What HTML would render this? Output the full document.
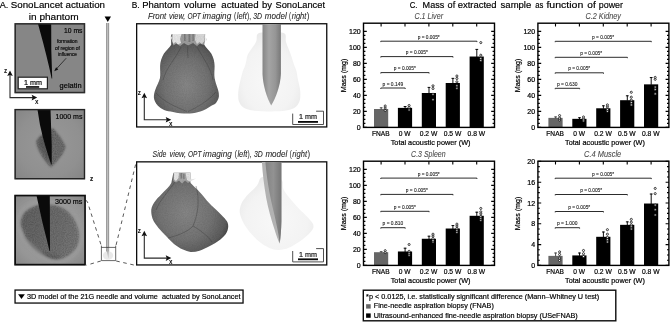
<!DOCTYPE html>
<html lang="en"><head><meta charset="utf-8"><title>SonoLancet figure</title>
<style>html,body{margin:0;padding:0;background:#fff;}body{width:670px;height:322px;overflow:hidden;font-family:"Liberation Sans", sans-serif;}svg{display:block;}text{font-family:"Liberation Sans", sans-serif;}</style>
</head><body>
<svg width="670" height="322" viewBox="0 0 670 322">
<defs>
<filter id="b1" x="-30%" y="-30%" width="160%" height="160%"><feGaussianBlur stdDeviation="1.6"/></filter>
<filter id="b1s" x="-30%" y="-30%" width="160%" height="160%"><feGaussianBlur stdDeviation="1.1"/></filter>
<filter id="b2" x="-30%" y="-30%" width="160%" height="160%"><feGaussianBlur stdDeviation="2.4"/></filter>
<filter id="b05" x="-30%" y="-30%" width="160%" height="160%"><feGaussianBlur stdDeviation="0.6"/></filter>
<filter id="noise" x="0" y="0" width="100%" height="100%">
  <feTurbulence type="fractalNoise" baseFrequency="0.9" numOctaves="2" seed="4" result="n"/>
  <feColorMatrix in="n" type="matrix" values="0 0 0 0 0  0 0 0 0 0  0 0 0 0 0  0.9 0 0 0 -0.28" result="a"/>
  <feComposite in="a" in2="SourceGraphic" operator="in"/>
</filter>
<linearGradient id="tube" x1="0" x2="1" y1="0" y2="0">
  <stop offset="0" stop-color="#6a6a6a"/><stop offset="0.3" stop-color="#b8b8b8"/><stop offset="0.6" stop-color="#c4c4c4"/><stop offset="1" stop-color="#707070"/>
</linearGradient>
<linearGradient id="ndl" x1="0" x2="1" y1="0" y2="0">
  <stop offset="0" stop-color="#868686"/><stop offset="0.35" stop-color="#a4a4a4"/><stop offset="0.7" stop-color="#969696"/><stop offset="1" stop-color="#787878"/>
</linearGradient>
<linearGradient id="ndl3" x1="0" x2="1" y1="0" y2="0">
  <stop offset="0" stop-color="#848484"/><stop offset="0.5" stop-color="#929292"/><stop offset="1" stop-color="#767676"/>
</linearGradient>
<linearGradient id="ndl2" x1="0" x2="1" y1="0" y2="0">
  <stop offset="0" stop-color="#9a9a9a"/><stop offset="0.45" stop-color="#a6a6a6"/><stop offset="0.55" stop-color="#7a7a7a"/><stop offset="1" stop-color="#6c6c6c"/>
</linearGradient>
<radialGradient id="opt1" cx="0.5" cy="0.64" r="0.62">
  <stop offset="0" stop-color="#868686"/><stop offset="0.55" stop-color="#727272"/><stop offset="0.85" stop-color="#5a5a5a"/><stop offset="1" stop-color="#3c3c3c"/>
</radialGradient>
<radialGradient id="opt2" cx="0.45" cy="0.5" r="0.62">
  <stop offset="0" stop-color="#858585"/><stop offset="0.55" stop-color="#737373"/><stop offset="0.85" stop-color="#5c5c5c"/><stop offset="1" stop-color="#3e3e3e"/>
</radialGradient>
<radialGradient id="mdl" cx="0.5" cy="0.6" r="0.6">
  <stop offset="0" stop-color="#f8f8f8"/><stop offset="0.7" stop-color="#f3f3f3"/><stop offset="1" stop-color="#eaeaea"/>
</radialGradient>
<linearGradient id="cl3" x1="0" x2="1" y1="0" y2="0.3">
  <stop offset="0" stop-color="#5a5a5a"/><stop offset="0.5" stop-color="#646464"/><stop offset="1" stop-color="#707070"/>
</linearGradient>
<radialGradient id="bg2" cx="0.5" cy="0.5" r="0.75">
  <stop offset="0" stop-color="#989898"/><stop offset="0.6" stop-color="#909090"/><stop offset="1" stop-color="#828282"/>
</radialGradient>
<radialGradient id="bg3" cx="0.5" cy="0.5" r="0.75">
  <stop offset="0" stop-color="#a0a0a0"/><stop offset="0.65" stop-color="#969696"/><stop offset="1" stop-color="#828282"/>
</radialGradient>
<clipPath id="cp1"><rect x="14.8" y="23.8" width="69.8" height="69"/></clipPath>
<clipPath id="cp2"><rect x="14.8" y="109.4" width="69.8" height="69.6"/></clipPath>
<clipPath id="cp3"><rect x="14.8" y="195.4" width="69.8" height="69.6"/></clipPath>
</defs>
<g id="panelA">
<text y="8.00" font-size="9.9" font-weight="normal" font-style="normal" fill="#000" stroke="#000" stroke-width="0.18"><tspan x="-0.20" textLength="8.60" lengthAdjust="spacingAndGlyphs">A.</tspan> <tspan x="10.80" textLength="94.20" lengthAdjust="spacingAndGlyphs">SonoLancet actuation</tspan></text>
<text x="28.80" y="20.20" font-size="9.9" font-weight="normal" font-style="normal" fill="#000" stroke="#000" stroke-width="0.18" textLength="49.80" lengthAdjust="spacingAndGlyphs" >in phantom</text>
<rect x="14.5" y="23.2" width="70.6" height="70" fill="#868686"/>
<g clip-path="url(#cp1)">
<path d="M37.9 23.4 L51.2 23.4 L51.3 50 L52.2 78.4 L51.6 78.4 C49.6 68 46 54 43.2 43 Z" fill="#0a0a0a"/>
</g>
<rect x="15.25" y="23.85" width="69.2" height="68.69999999999999" fill="none" stroke="#2c2c2c" stroke-width="1.5"/>
<text x="64.00" y="32.60" font-size="8" font-weight="normal" font-style="normal" fill="#000" stroke="#000" stroke-width="0.18" textLength="18.40" lengthAdjust="spacingAndGlyphs" >10 ms</text>
<text x="57.00" y="43.20" font-size="4.6" font-weight="normal" font-style="normal" fill="#111" stroke="#111" stroke-width="0.18" textLength="20.60" lengthAdjust="spacingAndGlyphs" >formation</text>
<text x="55.00" y="49.60" font-size="4.6" font-weight="normal" font-style="normal" fill="#111" stroke="#111" stroke-width="0.18" textLength="25.00" lengthAdjust="spacingAndGlyphs" >of region of</text>
<text x="58.00" y="55.80" font-size="4.6" font-weight="normal" font-style="normal" fill="#111" stroke="#111" stroke-width="0.18" textLength="19.00" lengthAdjust="spacingAndGlyphs" >influence</text>
<path d="M66.2 58.2 L55.6 69.8" stroke="#111" stroke-width="0.7" fill="none"/>
<path d="M54.2 71.3 L58.3 69.4 L56.1 67.3 Z" fill="#111"/>
<rect x="18.2" y="77.2" width="29.2" height="11.6" fill="#fff" stroke="#222" stroke-width="1.2"/>
<text x="24.00" y="84.60" font-size="7.4" font-weight="normal" font-style="normal" fill="#000" stroke="#000" stroke-width="0.18" textLength="18.00" lengthAdjust="spacingAndGlyphs" >1 mm</text>
<rect x="26" y="86.1" width="13.2" height="1.7" fill="#111"/>
<text x="59.60" y="88.00" font-size="8" font-weight="normal" font-style="normal" fill="#000" stroke="#000" stroke-width="0.18" textLength="22.00" lengthAdjust="spacingAndGlyphs" >gelatin</text>
<path d="M10 73.4 L10 97.6 L34.2 97.6" stroke="#2a2a2a" stroke-width="1.1" fill="none"/>
<path d="M10 70.4 L7.2 76.0 L10 75.0 L12.8 76.0 Z" fill="#111"/>
<path d="M37.2 97.6 L31.6 94.8 L32.6 97.6 L31.6 100.39999999999999 Z" fill="#111"/>
<text x="4.00" y="72.60" font-size="7" font-weight="bold" font-style="normal" fill="#111" stroke="#111" stroke-width="0" textLength="3.20" lengthAdjust="spacingAndGlyphs" >z</text>
<text x="35.00" y="103.60" font-size="7" font-weight="bold" font-style="normal" fill="#111" stroke="#111" stroke-width="0" textLength="3.50" lengthAdjust="spacingAndGlyphs" >x</text>
<rect x="14.4" y="109" width="70.6" height="70.4" fill="url(#bg2)"/>
<g clip-path="url(#cp2)">
<path d="M52.9 128 C57 132 63 140 65.6 146.4 C65 152 58 161 50.9 167.6 C47 164 43.5 159 41 155 C38.5 150.5 36 145 36.2 140.7 C39 136 46 131 52.9 128 Z" fill="#686868" opacity="0.88" filter="url(#b1s)"/>
<path d="M40 137 C44 134 49 133 52 134 L50 162 C46 158 42 152 39.5 147 C38 143 38.5 140 40 137 Z" fill="#505050" opacity="0.5" filter="url(#b1)"/>
<path d="M52.9 128 C57 132 63 140 65.6 146.4 C65 152 58 161 50.9 167.6 C47 164 43.5 159 41 155 C38.5 150.5 36 145 36.2 140.7 C39 136 46 131 52.9 128 Z" fill="#000" opacity="0.4" filter="url(#noise)"/>
<path d="M37.4 109 L50.5 109 L51.7 145 L51.7 164.4 L51.1 164.4 C49 158 47 151.5 45 145 C43 138 41.5 131 40 125 Z" fill="#0a0a0a"/>
</g>
<rect x="15.2" y="109.60000000000001" width="69.3" height="69.1" fill="none" stroke="#242424" stroke-width="1.4"/>
<text x="55.60" y="118.80" font-size="8" font-weight="normal" font-style="normal" fill="#000" stroke="#000" stroke-width="0.18" textLength="26.80" lengthAdjust="spacingAndGlyphs" >1000 ms</text>
<rect x="14.4" y="195" width="70.6" height="70.4" fill="url(#bg3)"/>
<g clip-path="url(#cp3)">
<path d="M46.0 204.8 C48.7 204.9 52.7 204.7 56.0 205.6 C59.3 206.5 63.0 207.8 66.0 210.0 C69.0 212.2 71.9 215.5 74.0 219.0 C76.1 222.5 78.1 227.0 78.8 231.0 C79.5 235.0 79.4 239.5 78.4 243.0 C77.4 246.5 75.4 249.5 73.0 252.0 C70.6 254.5 67.0 256.8 64.0 258.0 C61.0 259.2 57.8 259.6 55.0 259.4 C52.2 259.1 49.5 258.0 47.0 256.5 C44.5 255.0 42.3 252.6 40.0 250.5 C37.7 248.4 35.3 246.2 33.0 244.0 C30.7 241.8 27.9 239.7 26.0 237.0 C24.1 234.3 22.4 230.8 21.6 228.0 C20.8 225.2 20.4 222.7 21.0 220.0 C21.6 217.3 23.0 214.2 25.0 212.0 C27.0 209.8 30.5 208.0 33.0 206.8 C35.5 205.6 37.8 205.1 40.0 204.8 C42.2 204.5 43.3 204.7 46.0 204.8 Z" fill="#a2a2a2" stroke="#a2a2a2" stroke-width="5" opacity="0.8" filter="url(#b2)"/>
<path d="M46.0 204.8 C48.7 204.9 52.7 204.7 56.0 205.6 C59.3 206.5 63.0 207.8 66.0 210.0 C69.0 212.2 71.9 215.5 74.0 219.0 C76.1 222.5 78.1 227.0 78.8 231.0 C79.5 235.0 79.4 239.5 78.4 243.0 C77.4 246.5 75.4 249.5 73.0 252.0 C70.6 254.5 67.0 256.8 64.0 258.0 C61.0 259.2 57.8 259.6 55.0 259.4 C52.2 259.1 49.5 258.0 47.0 256.5 C44.5 255.0 42.3 252.6 40.0 250.5 C37.7 248.4 35.3 246.2 33.0 244.0 C30.7 241.8 27.9 239.7 26.0 237.0 C24.1 234.3 22.4 230.8 21.6 228.0 C20.8 225.2 20.4 222.7 21.0 220.0 C21.6 217.3 23.0 214.2 25.0 212.0 C27.0 209.8 30.5 208.0 33.0 206.8 C35.5 205.6 37.8 205.1 40.0 204.8 C42.2 204.5 43.3 204.7 46.0 204.8 Z" fill="url(#cl3)" opacity="0.9" filter="url(#b1)"/>
<path d="M40 250.5 C35 246 28 240 24 233 C26 242 36 252 47 256.5 C52 258.5 58 259 63 257 C55 257 46 255 40 250.5 Z" fill="#3a3a3a" opacity="0.55" filter="url(#b1)"/>
<path d="M46.0 204.8 C48.7 204.9 52.7 204.7 56.0 205.6 C59.3 206.5 63.0 207.8 66.0 210.0 C69.0 212.2 71.9 215.5 74.0 219.0 C76.1 222.5 78.1 227.0 78.8 231.0 C79.5 235.0 79.4 239.5 78.4 243.0 C77.4 246.5 75.4 249.5 73.0 252.0 C70.6 254.5 67.0 256.8 64.0 258.0 C61.0 259.2 57.8 259.6 55.0 259.4 C52.2 259.1 49.5 258.0 47.0 256.5 C44.5 255.0 42.3 252.6 40.0 250.5 C37.7 248.4 35.3 246.2 33.0 244.0 C30.7 241.8 27.9 239.7 26.0 237.0 C24.1 234.3 22.4 230.8 21.6 228.0 C20.8 225.2 20.4 222.7 21.0 220.0 C21.6 217.3 23.0 214.2 25.0 212.0 C27.0 209.8 30.5 208.0 33.0 206.8 C35.5 205.6 37.8 205.1 40.0 204.8 C42.2 204.5 43.3 204.7 46.0 204.8 Z" fill="#000" opacity="0.35" filter="url(#noise)"/>
<path d="M36.4 195 L49.8 195 L50 251 L49.5 251 C47 240.5 44.6 231 42.6 223 C40.4 213.5 38.4 204 36.4 195 Z" fill="#0a0a0a"/>
</g>
<rect x="15.15" y="195.54999999999998" width="69.9" height="69.10000000000001" fill="none" stroke="#0e0e0e" stroke-width="1.7"/>
<text x="55.00" y="204.40" font-size="8" font-weight="normal" font-style="normal" fill="#000" stroke="#000" stroke-width="0.18" textLength="27.40" lengthAdjust="spacingAndGlyphs" >3000 ms</text>
<text x="90.00" y="180.60" font-size="6.6" font-weight="bold" font-style="normal" fill="#111" stroke="#111" stroke-width="0.18" textLength="3.20" lengthAdjust="spacingAndGlyphs" >z</text>
<path d="M104.6 16.6 L111 16.6 L107.8 22 Z" fill="#000"/>
<rect x="106.2" y="23" width="2.9" height="231" fill="url(#tube)"/>
<path d="M106.2 254 L109.1 254 L108 258.8 Z" fill="#a8a8a8"/>
<ellipse cx="108" cy="255.5" rx="5.2" ry="4.2" fill="#e9e9e9"/>
<path d="M106.3 247 L109 247 L108.3 258.6 Z" fill="#b0b0b0"/>
<path d="M101.4 245.6 L101.4 260.6 L115.7 260.6 L115.7 245.6 M101.4 247.4 L115.7 247.4" stroke="#2a2a2a" stroke-width="0.7" fill="none"/>
<g stroke="#222" stroke-width="0.75" fill="none" stroke-dasharray="3.6 3.6">
<path d="M85.6 200.6 C87.5 200.6 87.6 202.5 88.6 205.5 L101.2 245.4"/>
<path d="M135.6 164.5 L116 245.4"/>
<path d="M100.8 261 L86.5 265.2"/>
<path d="M116.2 261 L135.6 265.4"/>
</g>
<rect x="15.05" y="290.05" width="228" height="13" fill="#fff" stroke="#0c0c0c" stroke-width="1.3"/>
<text transform="translate(18 299.1) scale(1.16 0.84)" x="-2" y="0" font-size="10">▼</text>
<text x="27.00" y="298.60" font-size="7.2" font-weight="normal" font-style="normal" fill="#000" stroke="#000" stroke-width="0.18" textLength="213.60" lengthAdjust="spacingAndGlyphs" xml:space="preserve">3D model of the 21G needle and volume  actuated by SonoLancet</text>
</g>
<g id="panelB">
<text y="8.00" font-size="9.9" font-weight="normal" font-style="normal" fill="#000" stroke="#000" stroke-width="0.18"><tspan x="131.70" textLength="7.90" lengthAdjust="spacingAndGlyphs">B.</tspan> <tspan x="142.20" textLength="38.00" lengthAdjust="spacingAndGlyphs">Phantom</tspan> <tspan x="184.00" textLength="32.00" lengthAdjust="spacingAndGlyphs">volume</tspan> <tspan x="221.30" textLength="37.30" lengthAdjust="spacingAndGlyphs">actuated</tspan> <tspan x="262.00" textLength="10.00" lengthAdjust="spacingAndGlyphs">by</tspan> <tspan x="275.50" textLength="49.50" lengthAdjust="spacingAndGlyphs">SonoLancet</tspan></text>
<text y="18.90" font-size="8.4" font-weight="normal" font-style="italic" fill="#222" stroke="#222" stroke-width="0.06"><tspan x="147.90" textLength="18.40" lengthAdjust="spacingAndGlyphs">Front</tspan> <tspan x="169.00" textLength="16.40" lengthAdjust="spacingAndGlyphs">view,</tspan> <tspan x="187.40" textLength="13.40" lengthAdjust="spacingAndGlyphs">OPT</tspan> <tspan x="202.50" textLength="28.70" lengthAdjust="spacingAndGlyphs">imaging</tspan> <tspan x="234.10" textLength="2.20" lengthAdjust="spacingAndGlyphs" font-style="normal">(</tspan><tspan x="236.80" textLength="10.00" lengthAdjust="spacingAndGlyphs" font-style="italic">left</tspan><tspan x="247.00" textLength="4.00" lengthAdjust="spacingAndGlyphs" font-style="normal">),</tspan> <tspan x="253.30" textLength="8.80" lengthAdjust="spacingAndGlyphs">3D</tspan> <tspan x="264.80" textLength="21.90" lengthAdjust="spacingAndGlyphs">model</tspan> <tspan x="289.10" textLength="2.00" lengthAdjust="spacingAndGlyphs" font-style="normal">(</tspan><tspan x="291.70" textLength="14.70" lengthAdjust="spacingAndGlyphs" font-style="italic">right</tspan><tspan x="306.80" textLength="2.60" lengthAdjust="spacingAndGlyphs" font-style="normal">)</tspan></text>
<text y="156.90" font-size="8.4" font-weight="normal" font-style="italic" fill="#222" stroke="#222" stroke-width="0.06"><tspan x="152.60" textLength="13.80" lengthAdjust="spacingAndGlyphs">Side</tspan> <tspan x="169.60" textLength="16.40" lengthAdjust="spacingAndGlyphs">view,</tspan> <tspan x="188.00" textLength="13.40" lengthAdjust="spacingAndGlyphs">OPT</tspan> <tspan x="203.10" textLength="28.70" lengthAdjust="spacingAndGlyphs">imaging</tspan> <tspan x="234.70" textLength="2.20" lengthAdjust="spacingAndGlyphs" font-style="normal">(</tspan><tspan x="237.40" textLength="10.00" lengthAdjust="spacingAndGlyphs" font-style="italic">left</tspan><tspan x="247.60" textLength="4.00" lengthAdjust="spacingAndGlyphs" font-style="normal">),</tspan> <tspan x="253.90" textLength="8.80" lengthAdjust="spacingAndGlyphs">3D</tspan> <tspan x="265.40" textLength="21.90" lengthAdjust="spacingAndGlyphs">model</tspan> <tspan x="289.70" textLength="2.00" lengthAdjust="spacingAndGlyphs" font-style="normal">(</tspan><tspan x="292.30" textLength="14.70" lengthAdjust="spacingAndGlyphs" font-style="italic">right</tspan><tspan x="307.40" textLength="2.60" lengthAdjust="spacingAndGlyphs" font-style="normal">)</tspan></text>
<rect x="136.65" y="23.75" width="190.09999999999997" height="103.2" fill="#fff" stroke="#0c0c0c" stroke-width="1.3"/>
<rect x="136.65" y="161.85" width="190.09999999999997" height="103.10000000000004" fill="#fff" stroke="#0c0c0c" stroke-width="1.3"/>
<path d="M171.3 34.4 L204.9 34.4 L204.2 44.8 C206 48 209.5 50.5 211.4 53.8 C213.5 57.5 214.6 62 214.6 66 C214.6 70 214 74 214.6 78 C215.4 82 216.6 85.5 217.8 89 C218.6 91.5 219.1 94 218.9 96.5 C218.6 99.4 216.8 102 215 104 C212.8 104.8 210.8 106.2 208.6 107.4 C205.4 109.6 202 111.2 198.4 112 C194.6 113 190.8 113.6 187 113.6 C182.2 113.6 177.6 113 173 112 C170 111.5 166.8 111 164.1 110 C161.6 108.6 159.4 107.2 157.7 105.4 C155.6 103.4 154.2 100.6 153.9 97.8 C153.7 95 154.4 92.2 155.4 89.5 C156.6 86 159 82 160 78 C160.6 74 160 70 160.1 66 C160.2 62 161.6 57.5 163.8 53.8 C165.8 50.5 169.5 48 171.2 44.8 Z" fill="url(#opt1)"/>
<g filter="url(#b05)"><path d="M172.1 34 L205.2 34 L204.8 41 L203.5 45 L200 43.5 L197 46 L193 43 L188 45.5 L184 43 L180 46 L176.5 43.5 L173.5 45.5 L172.1 42 Z" fill="#9c9c9c"/><path d="M172.6 34 L181.5 34 L180 39 L181 43 L178 44.5 L175.5 42 L173.5 44 L172.3 41 Z" fill="#e6e6e6"/><path d="M195.5 34 L204.8 34 L204.4 41 L202 44 L199.5 42 L197 44 L195 40 Z" fill="#d6d6d6"/><path d="M184 34 h1.6 v7 h-1.6 Z M188.5 34 h1.8 v8 h-1.8 Z M192.4 34 h1.4 v7 h-1.4 Z" fill="#7a7a7a"/><path d="M170.5 36 l2 1.5 l-1.8 3 Z M205.5 37 l1.6 2.4 l-1.4 2 Z" fill="#ddd"/></g>
<path d="M181 47 C176 58 166 68 163 80 M197 47 C203 58 211 68 213 80 M188 45 C187 50 188 54 188 58 M156 93 C164 102 176 107 187 111.5 M216 92 C208 101 198 107 188 111.5" stroke="#333" stroke-width="0.8" fill="none" opacity="0.4" filter="url(#b05)"/>
<path d="M171.3 34.4 L204.9 34.4 L204.2 44.8 C206 48 209.5 50.5 211.4 53.8 C213.5 57.5 214.6 62 214.6 66 C214.6 70 214 74 214.6 78 C215.4 82 216.6 85.5 217.8 89 C218.6 91.5 219.1 94 218.9 96.5 C218.6 99.4 216.8 102 215 104 C212.8 104.8 210.8 106.2 208.6 107.4 C205.4 109.6 202 111.2 198.4 112 C194.6 113 190.8 113.6 187 113.6 C182.2 113.6 177.6 113 173 112 C170 111.5 166.8 111 164.1 110 C161.6 108.6 159.4 107.2 157.7 105.4 C155.6 103.4 154.2 100.6 153.9 97.8 C153.7 95 154.4 92.2 155.4 89.5 C156.6 86 159 82 160 78 C160.6 74 160 70 160.1 66 C160.2 62 161.6 57.5 163.8 53.8 C165.8 50.5 169.5 48 171.2 44.8 Z" fill="#000" opacity="0.14" filter="url(#noise)"/>
<path d="M144.3 95.7 L144.3 119.7 L168.3 119.7" stroke="#2a2a2a" stroke-width="1.1" fill="none"/>
<path d="M144.3 92.7 L141.5 98.3 L144.3 97.3 L147.10000000000002 98.3 Z" fill="#111"/>
<path d="M171.3 119.7 L165.70000000000002 116.9 L166.70000000000002 119.7 L165.70000000000002 122.5 Z" fill="#111"/>
<text x="137.70" y="94.60" font-size="7" font-weight="bold" font-style="normal" fill="#111" stroke="#111" stroke-width="0" textLength="3.20" lengthAdjust="spacingAndGlyphs" >z</text>
<text x="169.00" y="125.60" font-size="7" font-weight="bold" font-style="normal" fill="#111" stroke="#111" stroke-width="0" textLength="3.50" lengthAdjust="spacingAndGlyphs" >x</text>
<path d="M258.2 33.4 C260.8 31.9 267.0 33.0 271.4 33.0 C275.8 33.0 282.1 31.9 284.5 33.4 C286.9 34.9 285.0 38.5 286.0 42.0 C287.0 45.5 289.6 51.2 290.7 54.2 C291.8 57.2 291.9 58.0 292.5 60.0 C293.1 62.0 293.8 64.1 294.5 66.0 C295.2 67.9 295.9 69.0 296.5 71.3 C297.1 73.6 297.4 77.2 298.0 80.0 C298.6 82.8 299.5 85.7 299.9 88.4 C300.3 91.1 300.4 93.7 300.3 96.0 C300.2 98.3 300.1 100.1 299.2 102.0 C298.3 103.9 297.2 106.1 295.0 107.5 C292.8 108.9 290.0 109.9 286.0 110.6 C282.0 111.2 276.5 111.4 271.0 111.4 C265.5 111.4 257.6 111.2 253.0 110.6 C248.4 109.9 245.8 108.9 243.5 107.5 C241.2 106.1 240.1 103.9 239.2 102.0 C238.3 100.1 238.3 98.3 238.2 96.0 C238.1 93.7 238.3 91.1 238.7 88.4 C239.1 85.7 239.8 82.8 240.5 80.0 C241.2 77.2 242.1 73.6 242.8 71.3 C243.6 69.0 244.4 67.9 245.0 66.0 C245.6 64.1 246.0 62.0 246.5 60.0 C247.0 58.0 246.4 57.2 248.0 54.2 C249.6 51.2 254.3 45.5 256.0 42.0 C257.7 38.5 255.6 34.9 258.2 33.4 Z" fill="url(#mdl)"/>
<path d="M262.5 24 L280.9 24 L280.9 74 C280.4 86 275.6 98 271.2 105.6 C267 98 263 86 262.5 74 Z" fill="url(#ndl)"/>
<path d="M292.7 113.60000000000001 L292.7 124.5 L323.5 124.5 L323.5 111.2 L316.1 111.2" stroke="#3c3c3c" stroke-width="0.9" fill="none"/>
<text x="299.00" y="119.00" font-size="7.4" font-weight="normal" font-style="normal" fill="#111" stroke="#111" stroke-width="0.18" textLength="18.00" lengthAdjust="spacingAndGlyphs" >1 mm</text>
<rect x="298.0" y="121.0" width="20" height="1.8" fill="#0a0a0a"/>
<path d="M173.3 173.3 L189.1 173.3 L190.6 182.9 C193 185.5 195.6 187.8 198 190.3 C201.2 193.6 204 197 207 200.7 C210 204 213 206.8 215.9 209.6 C219 212.6 222 215.4 224.8 218.6 C226.4 220.4 227.8 222.4 228.1 224.5 C228.5 227 228 229.8 226.9 232 C225.4 235 223 237.4 220.4 239.4 C217.2 241.9 213.6 244 209.9 246 C206.6 247.8 203 249.6 199.5 250.7 C196.6 251.6 193.6 252 190.6 251.9 C188 251.6 185.6 250.8 183 249.6 C179.8 248.2 176.6 246.2 174 244 C171.2 241.6 168.8 239.2 166.5 236.5 C163.6 233.6 161 231 158.5 228 C156 224.8 153.6 222 152.5 218.6 C151.6 215.7 151 212.6 151.3 209.6 C151.7 206.4 153.4 203.4 155.5 200.7 C158 197.5 161 194.8 163.8 191.8 C166.4 189 169.4 186.2 171.3 182.9 Z" fill="url(#opt2)"/>
<g filter="url(#b05)"><path d="M173.6 172.6 L190.6 172.6 L191.2 180.5 L188 183 L185 180.5 L182 183.5 L179 180.5 L176 182.5 L173.4 181 Z" fill="#a4a4a4"/><path d="M174 172.6 L179 172.6 L178.5 178 L176 181 L174 179.5 Z" fill="#e4e4e4"/><path d="M185.5 173 L190.4 173 L190.8 179.5 L196 178.6 L190 181.4 L187 180 Z" fill="#e0e0e0"/><path d="M180.5 173 h1.6 v5.5 h-1.6 Z M183.2 174 h1.3 v5 h-1.3 Z" fill="#7c7c7c"/></g>
<path d="M196 186 C200 200 198 214 193 226 C188 232 176 236 168 238 M193 226 C200 230 208 236 212 242 M175 182 C168 192 160 200 156 210" stroke="#3a3a3a" stroke-width="0.7" fill="none" opacity="0.55" filter="url(#b05)"/>
<path d="M173.3 173.3 L189.1 173.3 L190.6 182.9 C193 185.5 195.6 187.8 198 190.3 C201.2 193.6 204 197 207 200.7 C210 204 213 206.8 215.9 209.6 C219 212.6 222 215.4 224.8 218.6 C226.4 220.4 227.8 222.4 228.1 224.5 C228.5 227 228 229.8 226.9 232 C225.4 235 223 237.4 220.4 239.4 C217.2 241.9 213.6 244 209.9 246 C206.6 247.8 203 249.6 199.5 250.7 C196.6 251.6 193.6 252 190.6 251.9 C188 251.6 185.6 250.8 183 249.6 C179.8 248.2 176.6 246.2 174 244 C171.2 241.6 168.8 239.2 166.5 236.5 C163.6 233.6 161 231 158.5 228 C156 224.8 153.6 222 152.5 218.6 C151.6 215.7 151 212.6 151.3 209.6 C151.7 206.4 153.4 203.4 155.5 200.7 C158 197.5 161 194.8 163.8 191.8 C166.4 189 169.4 186.2 171.3 182.9 Z" fill="#000" opacity="0.14" filter="url(#noise)"/>
<path d="M144.3 233.7 L144.3 258.1 L168.3 258.1" stroke="#2a2a2a" stroke-width="1.1" fill="none"/>
<path d="M144.3 230.7 L141.5 236.29999999999998 L144.3 235.29999999999998 L147.10000000000002 236.29999999999998 Z" fill="#111"/>
<path d="M171.3 258.1 L165.70000000000002 255.3 L166.70000000000002 258.1 L165.70000000000002 260.90000000000003 Z" fill="#111"/>
<text x="137.70" y="232.70" font-size="7" font-weight="bold" font-style="normal" fill="#111" stroke="#111" stroke-width="0" textLength="3.20" lengthAdjust="spacingAndGlyphs" >z</text>
<text x="169.00" y="263.90" font-size="7" font-weight="bold" font-style="normal" fill="#111" stroke="#111" stroke-width="0" textLength="3.50" lengthAdjust="spacingAndGlyphs" >x</text>
<path d="M261.2 177.5 C258.9 178.9 259.4 182.5 257.0 185.5 C254.6 188.5 249.6 192.4 247.0 195.4 C244.4 198.4 242.7 200.7 241.5 203.6 C240.3 206.5 239.4 209.4 239.8 212.7 C240.2 216.0 241.9 219.8 243.8 223.4 C245.8 227.0 248.8 230.9 251.5 234.1 C254.2 237.2 257.0 240.0 260.0 242.3 C263.0 244.6 266.3 246.7 269.4 248.0 C272.5 249.3 275.4 250.0 278.7 249.9 C282.0 249.8 285.2 249.5 289.4 247.6 C293.6 245.7 300.2 241.2 304.0 238.3 C307.8 235.4 310.5 232.6 312.0 230.3 C313.5 228.0 313.8 226.7 313.2 224.6 C312.6 222.5 310.5 220.5 308.1 217.8 C305.7 215.1 301.9 211.8 298.8 208.5 C295.7 205.2 292.2 201.2 289.6 198.0 C287.0 194.8 284.7 192.0 283.4 189.0 C282.1 186.0 283.7 182.0 281.6 180.0 C279.5 178.0 274.4 177.2 271.0 176.8 C267.6 176.4 263.5 176.1 261.2 177.5 Z" fill="url(#mdl)"/>
<path d="M261.9 162 L281.4 162 L281.4 221.5 C281.2 230 280.6 238 279.5 243.6 C277.4 238 275.8 234 274.7 230 C271.4 220 268 208 266.2 198 C264.2 186 262.6 174 261.9 162 Z" fill="#b2b2b2"/>
<path d="M265.4 162 L281.4 162 L281.4 221.5 C281.2 230 280.6 238 279.7 243.6 C279 237 278 232 276.8 226 C274.6 215 271.4 203 269.4 192 C267.6 182 266.2 172 265.4 162 Z" fill="url(#ndl3)"/>
<path d="M292.7 251.0 L292.7 261.9 L323.5 261.9 L323.5 248.6 L316.1 248.6" stroke="#3c3c3c" stroke-width="0.9" fill="none"/>
<text x="299.00" y="257.30" font-size="7.4" font-weight="normal" font-style="normal" fill="#111" stroke="#111" stroke-width="0.18" textLength="18.00" lengthAdjust="spacingAndGlyphs" >1 mm</text>
<rect x="298.0" y="258.4" width="20" height="1.8" fill="#0a0a0a"/>
</g>
<g id="panelC">
<text y="8.00" font-size="9.9" font-weight="normal" font-style="normal" fill="#000" stroke="#000" stroke-width="0.18"><tspan x="409.70" textLength="7.80" lengthAdjust="spacingAndGlyphs">C.</tspan> <tspan x="422.60" textLength="21.70" lengthAdjust="spacingAndGlyphs">Mass</tspan> <tspan x="447.60" textLength="7.60" lengthAdjust="spacingAndGlyphs">of</tspan> <tspan x="457.70" textLength="38.90" lengthAdjust="spacingAndGlyphs">extracted</tspan> <tspan x="500.60" textLength="30.70" lengthAdjust="spacingAndGlyphs">sample</tspan> <tspan x="535.30" textLength="8.10" lengthAdjust="spacingAndGlyphs">as</tspan> <tspan x="546.40" textLength="36.90" lengthAdjust="spacingAndGlyphs">function</tspan> <tspan x="587.30" textLength="8.40" lengthAdjust="spacingAndGlyphs">of</tspan> <tspan x="598.80" textLength="24.20" lengthAdjust="spacingAndGlyphs">power</tspan></text>
<text x="414.50" y="18.60" font-size="8.5" font-weight="normal" font-style="italic" fill="#4a4a4a" stroke="#4a4a4a" stroke-width="0.08" textLength="28.50" lengthAdjust="spacingAndGlyphs" >C.1 Liver</text>
<rect x="374.00" y="109.00" width="14.2" height="18.40" fill="#666"/>
<path d="M381.20 109.50 L381.20 107.40 M379.80 107.80 L382.60 107.80" stroke="#444" stroke-width="0.95" fill="none"/>
<circle cx="385.20" cy="110.52" r="1.05" fill="#fff" stroke="#111" stroke-width="0.8"/>
<circle cx="385.20" cy="108.00" r="1.05" fill="#fff" stroke="#111" stroke-width="0.8"/>
<circle cx="385.20" cy="106.00" r="1.05" fill="#fff" stroke="#111" stroke-width="0.8"/>
<rect x="397.90" y="107.88" width="14.2" height="19.52" fill="#000"/>
<path d="M405.10 108.38 L405.10 106.12 M403.70 106.52 L406.50 106.52" stroke="#000" stroke-width="0.95" fill="none"/>
<circle cx="409.10" cy="110.00" r="1.05" fill="#fff" stroke="#111" stroke-width="0.8"/>
<circle cx="409.10" cy="107.48" r="1.05" fill="#fff" stroke="#111" stroke-width="0.8"/>
<circle cx="409.10" cy="105.48" r="1.05" fill="#fff" stroke="#111" stroke-width="0.8"/>
<rect x="421.80" y="93.00" width="14.2" height="34.40" fill="#000"/>
<path d="M429.00 93.50 L429.00 87.00 M427.60 87.40 L430.40 87.40" stroke="#000" stroke-width="0.95" fill="none"/>
<circle cx="433.00" cy="99.72" r="1.05" fill="#fff" stroke="#111" stroke-width="0.8"/>
<circle cx="433.00" cy="94.28" r="1.05" fill="#fff" stroke="#111" stroke-width="0.8"/>
<circle cx="433.00" cy="88.52" r="1.05" fill="#fff" stroke="#111" stroke-width="0.8"/>
<circle cx="433.00" cy="85.80" r="1.05" fill="#fff" stroke="#111" stroke-width="0.8"/>
<rect x="445.70" y="83.00" width="14.2" height="44.40" fill="#000"/>
<path d="M452.90 83.50 L452.90 77.96 M451.50 78.36 L454.30 78.36" stroke="#000" stroke-width="0.95" fill="none"/>
<circle cx="456.90" cy="88.20" r="1.05" fill="#fff" stroke="#111" stroke-width="0.8"/>
<circle cx="456.90" cy="85.80" r="1.05" fill="#fff" stroke="#111" stroke-width="0.8"/>
<circle cx="456.90" cy="81.80" r="1.05" fill="#fff" stroke="#111" stroke-width="0.8"/>
<circle cx="456.90" cy="78.52" r="1.05" fill="#fff" stroke="#111" stroke-width="0.8"/>
<circle cx="456.90" cy="76.00" r="1.05" fill="#fff" stroke="#111" stroke-width="0.8"/>
<rect x="469.60" y="56.52" width="14.2" height="70.88" fill="#000"/>
<path d="M476.80 57.02 L476.80 49.00 M475.40 49.40 L478.20 49.40" stroke="#000" stroke-width="0.95" fill="none"/>
<circle cx="480.80" cy="60.52" r="1.05" fill="#fff" stroke="#111" stroke-width="0.8"/>
<circle cx="480.80" cy="58.60" r="1.05" fill="#fff" stroke="#111" stroke-width="0.8"/>
<circle cx="480.80" cy="55.20" r="1.05" fill="#fff" stroke="#111" stroke-width="0.8"/>
<circle cx="480.80" cy="42.60" r="1.05" fill="#fff" stroke="#111" stroke-width="0.8"/>
<rect x="363.5" y="23.2" width="131" height="104.2" fill="none" stroke="#000" stroke-width="1.4"/>
<path d="M363.5 127.40 h3.3 M494.5 127.40 h-3.3 M363.5 123.40 h1.9 M494.5 123.40 h-1.9 M363.5 119.40 h1.9 M494.5 119.40 h-1.9 M363.5 115.40 h1.9 M494.5 115.40 h-1.9 M363.5 111.40 h3.3 M494.5 111.40 h-3.3 M363.5 107.40 h1.9 M494.5 107.40 h-1.9 M363.5 103.40 h1.9 M494.5 103.40 h-1.9 M363.5 99.40 h1.9 M494.5 99.40 h-1.9 M363.5 95.40 h3.3 M494.5 95.40 h-3.3 M363.5 91.40 h1.9 M494.5 91.40 h-1.9 M363.5 87.40 h1.9 M494.5 87.40 h-1.9 M363.5 83.40 h1.9 M494.5 83.40 h-1.9 M363.5 79.40 h3.3 M494.5 79.40 h-3.3 M363.5 75.40 h1.9 M494.5 75.40 h-1.9 M363.5 71.40 h1.9 M494.5 71.40 h-1.9 M363.5 67.40 h1.9 M494.5 67.40 h-1.9 M363.5 63.40 h3.3 M494.5 63.40 h-3.3 M363.5 59.40 h1.9 M494.5 59.40 h-1.9 M363.5 55.40 h1.9 M494.5 55.40 h-1.9 M363.5 51.40 h1.9 M494.5 51.40 h-1.9 M363.5 47.40 h3.3 M494.5 47.40 h-3.3 M363.5 43.40 h1.9 M494.5 43.40 h-1.9 M363.5 39.40 h1.9 M494.5 39.40 h-1.9 M363.5 35.40 h1.9 M494.5 35.40 h-1.9 M363.5 31.40 h3.3 M494.5 31.40 h-3.3 M381.10 23.2 v3.3 M405.00 23.2 v3.3 M428.90 23.2 v3.3 M452.80 23.2 v3.3 M476.70 23.2 v3.3" stroke="#000" stroke-width="1.1" fill="none"/>
<text x="356.80" y="130.00" font-size="7.5" font-weight="normal" font-style="normal" fill="#000" stroke="#000" stroke-width="0.22" textLength="3.90" lengthAdjust="spacingAndGlyphs" >0</text>
<text x="352.90" y="114.00" font-size="7.5" font-weight="normal" font-style="normal" fill="#000" stroke="#000" stroke-width="0.22" textLength="7.80" lengthAdjust="spacingAndGlyphs" >20</text>
<text x="352.90" y="98.00" font-size="7.5" font-weight="normal" font-style="normal" fill="#000" stroke="#000" stroke-width="0.22" textLength="7.80" lengthAdjust="spacingAndGlyphs" >40</text>
<text x="352.90" y="82.00" font-size="7.5" font-weight="normal" font-style="normal" fill="#000" stroke="#000" stroke-width="0.22" textLength="7.80" lengthAdjust="spacingAndGlyphs" >60</text>
<text x="352.90" y="66.00" font-size="7.5" font-weight="normal" font-style="normal" fill="#000" stroke="#000" stroke-width="0.22" textLength="7.80" lengthAdjust="spacingAndGlyphs" >80</text>
<text x="349.00" y="50.00" font-size="7.5" font-weight="normal" font-style="normal" fill="#000" stroke="#000" stroke-width="0.22" textLength="11.70" lengthAdjust="spacingAndGlyphs" >100</text>
<text x="349.00" y="34.00" font-size="7.5" font-weight="normal" font-style="normal" fill="#000" stroke="#000" stroke-width="0.22" textLength="11.70" lengthAdjust="spacingAndGlyphs" >120</text>
<text transform="translate(345.70 75.50) rotate(-90)" x="-16.8" y="0" font-size="7.7" stroke="#000" stroke-width="0.2" textLength="33.6" lengthAdjust="spacingAndGlyphs">Mass (mg)</text>
<text x="371.95" y="136.30" font-size="7.5" font-weight="normal" font-style="normal" fill="#000" stroke="#000" stroke-width="0.2" textLength="17.60" lengthAdjust="spacingAndGlyphs" >FNAB</text>
<text x="398.75" y="136.30" font-size="7.5" font-weight="normal" font-style="normal" fill="#000" stroke="#000" stroke-width="0.2" textLength="11.80" lengthAdjust="spacingAndGlyphs" >0 W</text>
<text x="419.75" y="136.30" font-size="7.5" font-weight="normal" font-style="normal" fill="#000" stroke="#000" stroke-width="0.2" textLength="17.60" lengthAdjust="spacingAndGlyphs" >0.2 W</text>
<text x="443.65" y="136.30" font-size="7.5" font-weight="normal" font-style="normal" fill="#000" stroke="#000" stroke-width="0.2" textLength="17.60" lengthAdjust="spacingAndGlyphs" >0.5 W</text>
<text x="467.55" y="136.30" font-size="7.5" font-weight="normal" font-style="normal" fill="#000" stroke="#000" stroke-width="0.2" textLength="17.60" lengthAdjust="spacingAndGlyphs" >0.8 W</text>
<text x="390.70" y="145.00" font-size="7.6" font-weight="normal" font-style="normal" fill="#000" stroke="#000" stroke-width="0.2" textLength="79.80" lengthAdjust="spacingAndGlyphs" >Total acoustic power (W)</text>
<path d="M380.80 42.1 L380.80 41.2 L476.90 41.2 L476.90 42.1" stroke="#2c2c2c" stroke-width="1" fill="none"/>
<text x="417.70" y="38.80" font-size="5.0" font-weight="normal" font-style="normal" fill="#222" stroke="#222" stroke-width="0.1" textLength="22.00" lengthAdjust="spacingAndGlyphs" >p = 0.005*</text>
<path d="M380.80 57.5 L380.80 56.6 L453.00 56.6 L453.00 57.5" stroke="#2c2c2c" stroke-width="1" fill="none"/>
<text x="405.75" y="54.20" font-size="5.0" font-weight="normal" font-style="normal" fill="#222" stroke="#222" stroke-width="0.1" textLength="22.00" lengthAdjust="spacingAndGlyphs" >p = 0.005*</text>
<path d="M380.80 73.5 L380.80 72.6 L429.10 72.6 L429.10 73.5" stroke="#2c2c2c" stroke-width="1" fill="none"/>
<text x="393.80" y="70.20" font-size="5.0" font-weight="normal" font-style="normal" fill="#222" stroke="#222" stroke-width="0.1" textLength="22.00" lengthAdjust="spacingAndGlyphs" >p = 0.005*</text>
<path d="M380.80 88.9 L380.80 88.0 L405.20 88.0 L405.20 88.9" stroke="#2c2c2c" stroke-width="1" fill="none"/>
<text x="382.55" y="85.60" font-size="5.0" font-weight="normal" font-style="normal" fill="#222" stroke="#222" stroke-width="0.1" textLength="20.60" lengthAdjust="spacingAndGlyphs" >p = 0.149</text>
<text x="585.50" y="18.60" font-size="8.5" font-weight="normal" font-style="italic" fill="#4a4a4a" stroke="#4a4a4a" stroke-width="0.08" textLength="35.50" lengthAdjust="spacingAndGlyphs" >C.2 Kidney</text>
<rect x="548.40" y="117.88" width="14.2" height="9.52" fill="#666"/>
<path d="M555.60 118.38 L555.60 116.52 M554.20 116.92 L557.00 116.92" stroke="#444" stroke-width="0.95" fill="none"/>
<circle cx="559.60" cy="120.04" r="1.05" fill="#fff" stroke="#111" stroke-width="0.8"/>
<circle cx="559.60" cy="118.12" r="1.05" fill="#fff" stroke="#111" stroke-width="0.8"/>
<circle cx="559.60" cy="115.60" r="1.05" fill="#fff" stroke="#111" stroke-width="0.8"/>
<rect x="572.30" y="118.84" width="14.2" height="8.56" fill="#000"/>
<path d="M579.50 119.34 L579.50 117.32 M578.10 117.72 L580.90 117.72" stroke="#000" stroke-width="0.95" fill="none"/>
<circle cx="583.50" cy="120.84" r="1.05" fill="#fff" stroke="#111" stroke-width="0.8"/>
<circle cx="583.50" cy="118.92" r="1.05" fill="#fff" stroke="#111" stroke-width="0.8"/>
<circle cx="583.50" cy="117.00" r="1.05" fill="#fff" stroke="#111" stroke-width="0.8"/>
<rect x="596.20" y="108.28" width="14.2" height="19.12" fill="#000"/>
<path d="M603.40 108.78 L603.40 105.40 M602.00 105.80 L604.80 105.80" stroke="#000" stroke-width="0.95" fill="none"/>
<circle cx="607.40" cy="111.32" r="1.05" fill="#fff" stroke="#111" stroke-width="0.8"/>
<circle cx="607.40" cy="109.40" r="1.05" fill="#fff" stroke="#111" stroke-width="0.8"/>
<circle cx="607.40" cy="106.84" r="1.05" fill="#fff" stroke="#111" stroke-width="0.8"/>
<circle cx="607.40" cy="104.92" r="1.05" fill="#fff" stroke="#111" stroke-width="0.8"/>
<rect x="620.10" y="100.20" width="14.2" height="27.20" fill="#000"/>
<path d="M627.30 100.70 L627.30 95.40 M625.90 95.80 L628.70 95.80" stroke="#000" stroke-width="0.95" fill="none"/>
<circle cx="631.30" cy="104.92" r="1.05" fill="#fff" stroke="#111" stroke-width="0.8"/>
<circle cx="631.30" cy="102.60" r="1.05" fill="#fff" stroke="#111" stroke-width="0.8"/>
<circle cx="631.30" cy="100.04" r="1.05" fill="#fff" stroke="#111" stroke-width="0.8"/>
<circle cx="631.30" cy="97.16" r="1.05" fill="#fff" stroke="#111" stroke-width="0.8"/>
<circle cx="631.30" cy="92.28" r="1.05" fill="#fff" stroke="#111" stroke-width="0.8"/>
<rect x="644.00" y="84.36" width="14.2" height="43.04" fill="#000"/>
<path d="M651.20 84.86 L651.20 77.16 M649.80 77.56 L652.60 77.56" stroke="#000" stroke-width="0.95" fill="none"/>
<circle cx="655.20" cy="93.88" r="1.05" fill="#fff" stroke="#111" stroke-width="0.8"/>
<circle cx="655.20" cy="89.40" r="1.05" fill="#fff" stroke="#111" stroke-width="0.8"/>
<circle cx="655.20" cy="87.08" r="1.05" fill="#fff" stroke="#111" stroke-width="0.8"/>
<circle cx="655.20" cy="79.32" r="1.05" fill="#fff" stroke="#111" stroke-width="0.8"/>
<circle cx="655.20" cy="77.40" r="1.05" fill="#fff" stroke="#111" stroke-width="0.8"/>
<rect x="537.9" y="23.2" width="131" height="104.2" fill="none" stroke="#000" stroke-width="1.4"/>
<path d="M537.9 127.40 h3.3 M668.9 127.40 h-3.3 M537.9 123.40 h1.9 M668.9 123.40 h-1.9 M537.9 119.40 h1.9 M668.9 119.40 h-1.9 M537.9 115.40 h1.9 M668.9 115.40 h-1.9 M537.9 111.40 h3.3 M668.9 111.40 h-3.3 M537.9 107.40 h1.9 M668.9 107.40 h-1.9 M537.9 103.40 h1.9 M668.9 103.40 h-1.9 M537.9 99.40 h1.9 M668.9 99.40 h-1.9 M537.9 95.40 h3.3 M668.9 95.40 h-3.3 M537.9 91.40 h1.9 M668.9 91.40 h-1.9 M537.9 87.40 h1.9 M668.9 87.40 h-1.9 M537.9 83.40 h1.9 M668.9 83.40 h-1.9 M537.9 79.40 h3.3 M668.9 79.40 h-3.3 M537.9 75.40 h1.9 M668.9 75.40 h-1.9 M537.9 71.40 h1.9 M668.9 71.40 h-1.9 M537.9 67.40 h1.9 M668.9 67.40 h-1.9 M537.9 63.40 h3.3 M668.9 63.40 h-3.3 M537.9 59.40 h1.9 M668.9 59.40 h-1.9 M537.9 55.40 h1.9 M668.9 55.40 h-1.9 M537.9 51.40 h1.9 M668.9 51.40 h-1.9 M537.9 47.40 h3.3 M668.9 47.40 h-3.3 M537.9 43.40 h1.9 M668.9 43.40 h-1.9 M537.9 39.40 h1.9 M668.9 39.40 h-1.9 M537.9 35.40 h1.9 M668.9 35.40 h-1.9 M537.9 31.40 h3.3 M668.9 31.40 h-3.3 M555.50 23.2 v3.3 M579.40 23.2 v3.3 M603.30 23.2 v3.3 M627.20 23.2 v3.3 M651.10 23.2 v3.3" stroke="#000" stroke-width="1.1" fill="none"/>
<text x="531.20" y="130.00" font-size="7.5" font-weight="normal" font-style="normal" fill="#000" stroke="#000" stroke-width="0.22" textLength="3.90" lengthAdjust="spacingAndGlyphs" >0</text>
<text x="527.30" y="114.00" font-size="7.5" font-weight="normal" font-style="normal" fill="#000" stroke="#000" stroke-width="0.22" textLength="7.80" lengthAdjust="spacingAndGlyphs" >20</text>
<text x="527.30" y="98.00" font-size="7.5" font-weight="normal" font-style="normal" fill="#000" stroke="#000" stroke-width="0.22" textLength="7.80" lengthAdjust="spacingAndGlyphs" >40</text>
<text x="527.30" y="82.00" font-size="7.5" font-weight="normal" font-style="normal" fill="#000" stroke="#000" stroke-width="0.22" textLength="7.80" lengthAdjust="spacingAndGlyphs" >60</text>
<text x="527.30" y="66.00" font-size="7.5" font-weight="normal" font-style="normal" fill="#000" stroke="#000" stroke-width="0.22" textLength="7.80" lengthAdjust="spacingAndGlyphs" >80</text>
<text x="523.40" y="50.00" font-size="7.5" font-weight="normal" font-style="normal" fill="#000" stroke="#000" stroke-width="0.22" textLength="11.70" lengthAdjust="spacingAndGlyphs" >100</text>
<text x="523.40" y="34.00" font-size="7.5" font-weight="normal" font-style="normal" fill="#000" stroke="#000" stroke-width="0.22" textLength="11.70" lengthAdjust="spacingAndGlyphs" >120</text>
<text transform="translate(520.10 75.50) rotate(-90)" x="-16.8" y="0" font-size="7.7" stroke="#000" stroke-width="0.2" textLength="33.6" lengthAdjust="spacingAndGlyphs">Mass (mg)</text>
<text x="546.35" y="136.30" font-size="7.5" font-weight="normal" font-style="normal" fill="#000" stroke="#000" stroke-width="0.2" textLength="17.60" lengthAdjust="spacingAndGlyphs" >FNAB</text>
<text x="573.15" y="136.30" font-size="7.5" font-weight="normal" font-style="normal" fill="#000" stroke="#000" stroke-width="0.2" textLength="11.80" lengthAdjust="spacingAndGlyphs" >0 W</text>
<text x="594.15" y="136.30" font-size="7.5" font-weight="normal" font-style="normal" fill="#000" stroke="#000" stroke-width="0.2" textLength="17.60" lengthAdjust="spacingAndGlyphs" >0.2 W</text>
<text x="618.05" y="136.30" font-size="7.5" font-weight="normal" font-style="normal" fill="#000" stroke="#000" stroke-width="0.2" textLength="17.60" lengthAdjust="spacingAndGlyphs" >0.5 W</text>
<text x="641.95" y="136.30" font-size="7.5" font-weight="normal" font-style="normal" fill="#000" stroke="#000" stroke-width="0.2" textLength="17.60" lengthAdjust="spacingAndGlyphs" >0.8 W</text>
<text x="565.10" y="145.00" font-size="7.6" font-weight="normal" font-style="normal" fill="#000" stroke="#000" stroke-width="0.2" textLength="79.80" lengthAdjust="spacingAndGlyphs" >Total acoustic power (W)</text>
<path d="M555.20 42.199999999999996 L555.20 41.3 L651.30 41.3 L651.30 42.199999999999996" stroke="#2c2c2c" stroke-width="1" fill="none"/>
<text x="592.10" y="38.90" font-size="5.0" font-weight="normal" font-style="normal" fill="#222" stroke="#222" stroke-width="0.1" textLength="22.00" lengthAdjust="spacingAndGlyphs" >p = 0.005*</text>
<path d="M555.20 58.199999999999996 L555.20 57.3 L627.40 57.3 L627.40 58.199999999999996" stroke="#2c2c2c" stroke-width="1" fill="none"/>
<text x="580.15" y="54.90" font-size="5.0" font-weight="normal" font-style="normal" fill="#222" stroke="#222" stroke-width="0.1" textLength="22.00" lengthAdjust="spacingAndGlyphs" >p = 0.005*</text>
<path d="M555.20 73.7 L555.20 72.8 L603.50 72.8 L603.50 73.7" stroke="#2c2c2c" stroke-width="1" fill="none"/>
<text x="568.20" y="70.40" font-size="5.0" font-weight="normal" font-style="normal" fill="#222" stroke="#222" stroke-width="0.1" textLength="22.00" lengthAdjust="spacingAndGlyphs" >p = 0.005*</text>
<path d="M555.20 89.2 L555.20 88.3 L579.60 88.3 L579.60 89.2" stroke="#2c2c2c" stroke-width="1" fill="none"/>
<text x="556.95" y="85.90" font-size="5.0" font-weight="normal" font-style="normal" fill="#222" stroke="#222" stroke-width="0.1" textLength="20.60" lengthAdjust="spacingAndGlyphs" >p = 0.630</text>
<text x="411.10" y="156.60" font-size="8.5" font-weight="normal" font-style="italic" fill="#4a4a4a" stroke="#4a4a4a" stroke-width="0.08" textLength="34.50" lengthAdjust="spacingAndGlyphs" >C.3 Spleen</text>
<rect x="374.00" y="252.20" width="14.2" height="13.20" fill="#666"/>
<path d="M381.20 252.70 L381.20 251.32 M379.80 251.72 L382.60 251.72" stroke="#444" stroke-width="0.95" fill="none"/>
<circle cx="385.20" cy="252.60" r="1.05" fill="#fff" stroke="#111" stroke-width="0.8"/>
<circle cx="385.20" cy="250.68" r="1.05" fill="#fff" stroke="#111" stroke-width="0.8"/>
<rect x="397.90" y="251.48" width="14.2" height="13.92" fill="#000"/>
<path d="M405.10 251.98 L405.10 247.80 M403.70 248.20 L406.50 248.20" stroke="#000" stroke-width="0.95" fill="none"/>
<circle cx="409.10" cy="255.16" r="1.05" fill="#fff" stroke="#111" stroke-width="0.8"/>
<circle cx="409.10" cy="253.24" r="1.05" fill="#fff" stroke="#111" stroke-width="0.8"/>
<circle cx="409.10" cy="251.32" r="1.05" fill="#fff" stroke="#111" stroke-width="0.8"/>
<circle cx="409.10" cy="244.52" r="1.05" fill="#fff" stroke="#111" stroke-width="0.8"/>
<rect x="421.80" y="238.76" width="14.2" height="26.64" fill="#000"/>
<path d="M429.00 239.26 L429.00 235.80 M427.60 236.20 L430.40 236.20" stroke="#000" stroke-width="0.95" fill="none"/>
<circle cx="433.00" cy="241.96" r="1.05" fill="#fff" stroke="#111" stroke-width="0.8"/>
<circle cx="433.00" cy="240.44" r="1.05" fill="#fff" stroke="#111" stroke-width="0.8"/>
<circle cx="433.00" cy="238.52" r="1.05" fill="#fff" stroke="#111" stroke-width="0.8"/>
<circle cx="433.00" cy="236.12" r="1.05" fill="#fff" stroke="#111" stroke-width="0.8"/>
<circle cx="433.00" cy="234.20" r="1.05" fill="#fff" stroke="#111" stroke-width="0.8"/>
<rect x="445.70" y="228.52" width="14.2" height="36.88" fill="#000"/>
<path d="M452.90 229.02 L452.90 225.16 M451.50 225.56 L454.30 225.56" stroke="#000" stroke-width="0.95" fill="none"/>
<circle cx="456.90" cy="232.28" r="1.05" fill="#fff" stroke="#111" stroke-width="0.8"/>
<circle cx="456.90" cy="230.28" r="1.05" fill="#fff" stroke="#111" stroke-width="0.8"/>
<circle cx="456.90" cy="228.36" r="1.05" fill="#fff" stroke="#111" stroke-width="0.8"/>
<circle cx="456.90" cy="226.04" r="1.05" fill="#fff" stroke="#111" stroke-width="0.8"/>
<circle cx="456.90" cy="224.12" r="1.05" fill="#fff" stroke="#111" stroke-width="0.8"/>
<rect x="469.60" y="215.80" width="14.2" height="49.60" fill="#000"/>
<path d="M476.80 216.30 L476.80 211.80 M475.40 212.20 L478.20 212.20" stroke="#000" stroke-width="0.95" fill="none"/>
<circle cx="480.80" cy="220.20" r="1.05" fill="#fff" stroke="#111" stroke-width="0.8"/>
<circle cx="480.80" cy="218.28" r="1.05" fill="#fff" stroke="#111" stroke-width="0.8"/>
<circle cx="480.80" cy="216.36" r="1.05" fill="#fff" stroke="#111" stroke-width="0.8"/>
<circle cx="480.80" cy="213.80" r="1.05" fill="#fff" stroke="#111" stroke-width="0.8"/>
<circle cx="480.80" cy="211.88" r="1.05" fill="#fff" stroke="#111" stroke-width="0.8"/>
<circle cx="480.80" cy="208.44" r="1.05" fill="#fff" stroke="#111" stroke-width="0.8"/>
<rect x="363.5" y="161.2" width="131" height="104.2" fill="none" stroke="#000" stroke-width="1.4"/>
<path d="M363.5 265.40 h3.3 M494.5 265.40 h-3.3 M363.5 261.40 h1.9 M494.5 261.40 h-1.9 M363.5 257.40 h1.9 M494.5 257.40 h-1.9 M363.5 253.40 h1.9 M494.5 253.40 h-1.9 M363.5 249.40 h3.3 M494.5 249.40 h-3.3 M363.5 245.40 h1.9 M494.5 245.40 h-1.9 M363.5 241.40 h1.9 M494.5 241.40 h-1.9 M363.5 237.40 h1.9 M494.5 237.40 h-1.9 M363.5 233.40 h3.3 M494.5 233.40 h-3.3 M363.5 229.40 h1.9 M494.5 229.40 h-1.9 M363.5 225.40 h1.9 M494.5 225.40 h-1.9 M363.5 221.40 h1.9 M494.5 221.40 h-1.9 M363.5 217.40 h3.3 M494.5 217.40 h-3.3 M363.5 213.40 h1.9 M494.5 213.40 h-1.9 M363.5 209.40 h1.9 M494.5 209.40 h-1.9 M363.5 205.40 h1.9 M494.5 205.40 h-1.9 M363.5 201.40 h3.3 M494.5 201.40 h-3.3 M363.5 197.40 h1.9 M494.5 197.40 h-1.9 M363.5 193.40 h1.9 M494.5 193.40 h-1.9 M363.5 189.40 h1.9 M494.5 189.40 h-1.9 M363.5 185.40 h3.3 M494.5 185.40 h-3.3 M363.5 181.40 h1.9 M494.5 181.40 h-1.9 M363.5 177.40 h1.9 M494.5 177.40 h-1.9 M363.5 173.40 h1.9 M494.5 173.40 h-1.9 M363.5 169.40 h3.3 M494.5 169.40 h-3.3 M381.10 161.2 v3.3 M405.00 161.2 v3.3 M428.90 161.2 v3.3 M452.80 161.2 v3.3 M476.70 161.2 v3.3" stroke="#000" stroke-width="1.1" fill="none"/>
<text x="356.80" y="268.00" font-size="7.5" font-weight="normal" font-style="normal" fill="#000" stroke="#000" stroke-width="0.22" textLength="3.90" lengthAdjust="spacingAndGlyphs" >0</text>
<text x="352.90" y="252.00" font-size="7.5" font-weight="normal" font-style="normal" fill="#000" stroke="#000" stroke-width="0.22" textLength="7.80" lengthAdjust="spacingAndGlyphs" >20</text>
<text x="352.90" y="236.00" font-size="7.5" font-weight="normal" font-style="normal" fill="#000" stroke="#000" stroke-width="0.22" textLength="7.80" lengthAdjust="spacingAndGlyphs" >40</text>
<text x="352.90" y="220.00" font-size="7.5" font-weight="normal" font-style="normal" fill="#000" stroke="#000" stroke-width="0.22" textLength="7.80" lengthAdjust="spacingAndGlyphs" >60</text>
<text x="352.90" y="204.00" font-size="7.5" font-weight="normal" font-style="normal" fill="#000" stroke="#000" stroke-width="0.22" textLength="7.80" lengthAdjust="spacingAndGlyphs" >80</text>
<text x="349.00" y="188.00" font-size="7.5" font-weight="normal" font-style="normal" fill="#000" stroke="#000" stroke-width="0.22" textLength="11.70" lengthAdjust="spacingAndGlyphs" >100</text>
<text x="349.00" y="172.00" font-size="7.5" font-weight="normal" font-style="normal" fill="#000" stroke="#000" stroke-width="0.22" textLength="11.70" lengthAdjust="spacingAndGlyphs" >120</text>
<text transform="translate(345.70 213.50) rotate(-90)" x="-16.8" y="0" font-size="7.7" stroke="#000" stroke-width="0.2" textLength="33.6" lengthAdjust="spacingAndGlyphs">Mass (mg)</text>
<text x="371.95" y="274.30" font-size="7.5" font-weight="normal" font-style="normal" fill="#000" stroke="#000" stroke-width="0.2" textLength="17.60" lengthAdjust="spacingAndGlyphs" >FNAB</text>
<text x="398.75" y="274.30" font-size="7.5" font-weight="normal" font-style="normal" fill="#000" stroke="#000" stroke-width="0.2" textLength="11.80" lengthAdjust="spacingAndGlyphs" >0 W</text>
<text x="419.75" y="274.30" font-size="7.5" font-weight="normal" font-style="normal" fill="#000" stroke="#000" stroke-width="0.2" textLength="17.60" lengthAdjust="spacingAndGlyphs" >0.2 W</text>
<text x="443.65" y="274.30" font-size="7.5" font-weight="normal" font-style="normal" fill="#000" stroke="#000" stroke-width="0.2" textLength="17.60" lengthAdjust="spacingAndGlyphs" >0.5 W</text>
<text x="467.55" y="274.30" font-size="7.5" font-weight="normal" font-style="normal" fill="#000" stroke="#000" stroke-width="0.2" textLength="17.60" lengthAdjust="spacingAndGlyphs" >0.8 W</text>
<text x="390.70" y="283.00" font-size="7.6" font-weight="normal" font-style="normal" fill="#000" stroke="#000" stroke-width="0.2" textLength="79.80" lengthAdjust="spacingAndGlyphs" >Total acoustic power (W)</text>
<path d="M380.80 179.0 L380.80 178.1 L476.90 178.1 L476.90 179.0" stroke="#2c2c2c" stroke-width="1" fill="none"/>
<text x="417.70" y="175.70" font-size="5.0" font-weight="normal" font-style="normal" fill="#222" stroke="#222" stroke-width="0.1" textLength="22.00" lengthAdjust="spacingAndGlyphs" >p = 0.005*</text>
<path d="M380.80 195.3 L380.80 194.4 L453.00 194.4 L453.00 195.3" stroke="#2c2c2c" stroke-width="1" fill="none"/>
<text x="405.75" y="192.00" font-size="5.0" font-weight="normal" font-style="normal" fill="#222" stroke="#222" stroke-width="0.1" textLength="22.00" lengthAdjust="spacingAndGlyphs" >p = 0.005*</text>
<path d="M380.80 212.20000000000002 L380.80 211.3 L429.10 211.3 L429.10 212.20000000000002" stroke="#2c2c2c" stroke-width="1" fill="none"/>
<text x="393.80" y="208.90" font-size="5.0" font-weight="normal" font-style="normal" fill="#222" stroke="#222" stroke-width="0.1" textLength="22.00" lengthAdjust="spacingAndGlyphs" >p = 0.005*</text>
<path d="M380.80 228.6 L380.80 227.7 L405.20 227.7 L405.20 228.6" stroke="#2c2c2c" stroke-width="1" fill="none"/>
<text x="382.55" y="225.30" font-size="5.0" font-weight="normal" font-style="normal" fill="#222" stroke="#222" stroke-width="0.1" textLength="20.60" lengthAdjust="spacingAndGlyphs" >p = 0.810</text>
<text x="584.10" y="156.60" font-size="8.5" font-weight="normal" font-style="italic" fill="#4a4a4a" stroke="#4a4a4a" stroke-width="0.08" textLength="37.10" lengthAdjust="spacingAndGlyphs" >C.4 Muscle</text>
<rect x="548.40" y="255.88" width="14.2" height="9.52" fill="#666"/>
<path d="M555.60 256.38 L555.60 252.61 M554.20 253.01 L557.00 253.01" stroke="#444" stroke-width="0.95" fill="none"/>
<circle cx="559.60" cy="260.46" r="1.05" fill="#fff" stroke="#111" stroke-width="0.8"/>
<circle cx="559.60" cy="258.12" r="1.05" fill="#fff" stroke="#111" stroke-width="0.8"/>
<circle cx="559.60" cy="254.48" r="1.05" fill="#fff" stroke="#111" stroke-width="0.8"/>
<circle cx="559.60" cy="251.88" r="1.05" fill="#fff" stroke="#111" stroke-width="0.8"/>
<rect x="572.30" y="255.42" width="14.2" height="9.98" fill="#000"/>
<path d="M579.50 255.92 L579.50 252.61 M578.10 253.01 L580.90 253.01" stroke="#000" stroke-width="0.95" fill="none"/>
<circle cx="583.50" cy="256.56" r="1.05" fill="#fff" stroke="#111" stroke-width="0.8"/>
<circle cx="583.50" cy="253.70" r="1.05" fill="#fff" stroke="#111" stroke-width="0.8"/>
<circle cx="583.50" cy="250.48" r="1.05" fill="#fff" stroke="#111" stroke-width="0.8"/>
<rect x="596.20" y="236.80" width="14.2" height="28.60" fill="#000"/>
<path d="M603.40 237.30 L603.40 231.60 M602.00 232.00 L604.80 232.00" stroke="#000" stroke-width="0.95" fill="none"/>
<circle cx="607.40" cy="242.00" r="1.05" fill="#fff" stroke="#111" stroke-width="0.8"/>
<circle cx="607.40" cy="239.66" r="1.05" fill="#fff" stroke="#111" stroke-width="0.8"/>
<circle cx="607.40" cy="237.32" r="1.05" fill="#fff" stroke="#111" stroke-width="0.8"/>
<circle cx="607.40" cy="234.20" r="1.05" fill="#fff" stroke="#111" stroke-width="0.8"/>
<circle cx="607.40" cy="229.68" r="1.05" fill="#fff" stroke="#111" stroke-width="0.8"/>
<rect x="620.10" y="224.84" width="14.2" height="40.56" fill="#000"/>
<path d="M627.30 225.34 L627.30 221.46 M625.90 221.86 L628.70 221.86" stroke="#000" stroke-width="0.95" fill="none"/>
<circle cx="631.30" cy="229.00" r="1.05" fill="#fff" stroke="#111" stroke-width="0.8"/>
<circle cx="631.30" cy="226.66" r="1.05" fill="#fff" stroke="#111" stroke-width="0.8"/>
<circle cx="631.30" cy="224.84" r="1.05" fill="#fff" stroke="#111" stroke-width="0.8"/>
<circle cx="631.30" cy="222.24" r="1.05" fill="#fff" stroke="#111" stroke-width="0.8"/>
<circle cx="631.30" cy="219.38" r="1.05" fill="#fff" stroke="#111" stroke-width="0.8"/>
<rect x="644.00" y="203.52" width="14.2" height="61.88" fill="#000"/>
<path d="M651.20 204.02 L651.20 193.64 M649.80 194.04 L652.60 194.04" stroke="#000" stroke-width="0.95" fill="none"/>
<circle cx="655.20" cy="214.96" r="1.05" fill="#fff" stroke="#111" stroke-width="0.8"/>
<circle cx="655.20" cy="209.76" r="1.05" fill="#fff" stroke="#111" stroke-width="0.8"/>
<circle cx="655.20" cy="205.08" r="1.05" fill="#fff" stroke="#111" stroke-width="0.8"/>
<circle cx="655.20" cy="193.64" r="1.05" fill="#fff" stroke="#111" stroke-width="0.8"/>
<circle cx="655.20" cy="188.44" r="1.05" fill="#fff" stroke="#111" stroke-width="0.8"/>
<rect x="537.9" y="161.2" width="131" height="104.2" fill="none" stroke="#000" stroke-width="1.4"/>
<path d="M537.9 265.40 h3.3 M668.9 265.40 h-3.3 M537.9 260.20 h1.9 M668.9 260.20 h-1.9 M537.9 255.00 h1.9 M668.9 255.00 h-1.9 M537.9 249.80 h1.9 M668.9 249.80 h-1.9 M537.9 244.60 h3.3 M668.9 244.60 h-3.3 M537.9 239.40 h1.9 M668.9 239.40 h-1.9 M537.9 234.20 h1.9 M668.9 234.20 h-1.9 M537.9 229.00 h1.9 M668.9 229.00 h-1.9 M537.9 223.80 h3.3 M668.9 223.80 h-3.3 M537.9 218.60 h1.9 M668.9 218.60 h-1.9 M537.9 213.40 h1.9 M668.9 213.40 h-1.9 M537.9 208.20 h1.9 M668.9 208.20 h-1.9 M537.9 203.00 h3.3 M668.9 203.00 h-3.3 M537.9 197.80 h1.9 M668.9 197.80 h-1.9 M537.9 192.60 h1.9 M668.9 192.60 h-1.9 M537.9 187.40 h1.9 M668.9 187.40 h-1.9 M537.9 182.20 h3.3 M668.9 182.20 h-3.3 M537.9 177.00 h1.9 M668.9 177.00 h-1.9 M537.9 171.80 h1.9 M668.9 171.80 h-1.9 M537.9 166.60 h1.9 M668.9 166.60 h-1.9 M537.9 161.40 h3.3 M668.9 161.40 h-3.3 M555.50 161.2 v3.3 M579.40 161.2 v3.3 M603.30 161.2 v3.3 M627.20 161.2 v3.3 M651.10 161.2 v3.3" stroke="#000" stroke-width="1.1" fill="none"/>
<text x="531.20" y="268.00" font-size="7.5" font-weight="normal" font-style="normal" fill="#000" stroke="#000" stroke-width="0.22" textLength="3.90" lengthAdjust="spacingAndGlyphs" >0</text>
<text x="531.20" y="247.20" font-size="7.5" font-weight="normal" font-style="normal" fill="#000" stroke="#000" stroke-width="0.22" textLength="3.90" lengthAdjust="spacingAndGlyphs" >4</text>
<text x="531.20" y="226.40" font-size="7.5" font-weight="normal" font-style="normal" fill="#000" stroke="#000" stroke-width="0.22" textLength="3.90" lengthAdjust="spacingAndGlyphs" >8</text>
<text x="527.30" y="205.60" font-size="7.5" font-weight="normal" font-style="normal" fill="#000" stroke="#000" stroke-width="0.22" textLength="7.80" lengthAdjust="spacingAndGlyphs" >12</text>
<text x="527.30" y="184.80" font-size="7.5" font-weight="normal" font-style="normal" fill="#000" stroke="#000" stroke-width="0.22" textLength="7.80" lengthAdjust="spacingAndGlyphs" >16</text>
<text x="527.30" y="164.00" font-size="7.5" font-weight="normal" font-style="normal" fill="#000" stroke="#000" stroke-width="0.22" textLength="7.80" lengthAdjust="spacingAndGlyphs" >20</text>
<text transform="translate(520.10 213.50) rotate(-90)" x="-16.8" y="0" font-size="7.7" stroke="#000" stroke-width="0.2" textLength="33.6" lengthAdjust="spacingAndGlyphs">Mass (mg)</text>
<text x="546.35" y="274.30" font-size="7.5" font-weight="normal" font-style="normal" fill="#000" stroke="#000" stroke-width="0.2" textLength="17.60" lengthAdjust="spacingAndGlyphs" >FNAB</text>
<text x="573.15" y="274.30" font-size="7.5" font-weight="normal" font-style="normal" fill="#000" stroke="#000" stroke-width="0.2" textLength="11.80" lengthAdjust="spacingAndGlyphs" >0 W</text>
<text x="594.15" y="274.30" font-size="7.5" font-weight="normal" font-style="normal" fill="#000" stroke="#000" stroke-width="0.2" textLength="17.60" lengthAdjust="spacingAndGlyphs" >0.2 W</text>
<text x="618.05" y="274.30" font-size="7.5" font-weight="normal" font-style="normal" fill="#000" stroke="#000" stroke-width="0.2" textLength="17.60" lengthAdjust="spacingAndGlyphs" >0.5 W</text>
<text x="641.95" y="274.30" font-size="7.5" font-weight="normal" font-style="normal" fill="#000" stroke="#000" stroke-width="0.2" textLength="17.60" lengthAdjust="spacingAndGlyphs" >0.8 W</text>
<text x="565.10" y="283.00" font-size="7.6" font-weight="normal" font-style="normal" fill="#000" stroke="#000" stroke-width="0.2" textLength="79.80" lengthAdjust="spacingAndGlyphs" >Total acoustic power (W)</text>
<path d="M555.20 179.1 L555.20 178.2 L651.30 178.2 L651.30 179.1" stroke="#2c2c2c" stroke-width="1" fill="none"/>
<text x="592.10" y="175.80" font-size="5.0" font-weight="normal" font-style="normal" fill="#222" stroke="#222" stroke-width="0.1" textLength="22.00" lengthAdjust="spacingAndGlyphs" >p = 0.005*</text>
<path d="M555.20 195.4 L555.20 194.5 L627.40 194.5 L627.40 195.4" stroke="#2c2c2c" stroke-width="1" fill="none"/>
<text x="580.15" y="192.10" font-size="5.0" font-weight="normal" font-style="normal" fill="#222" stroke="#222" stroke-width="0.1" textLength="22.00" lengthAdjust="spacingAndGlyphs" >p = 0.005*</text>
<path d="M555.20 212.4 L555.20 211.5 L603.50 211.5 L603.50 212.4" stroke="#2c2c2c" stroke-width="1" fill="none"/>
<text x="568.20" y="209.10" font-size="5.0" font-weight="normal" font-style="normal" fill="#222" stroke="#222" stroke-width="0.1" textLength="22.00" lengthAdjust="spacingAndGlyphs" >p = 0.005*</text>
<path d="M555.20 228.6 L555.20 227.7 L579.60 227.7 L579.60 228.6" stroke="#2c2c2c" stroke-width="1" fill="none"/>
<text x="556.95" y="225.30" font-size="5.0" font-weight="normal" font-style="normal" fill="#222" stroke="#222" stroke-width="0.1" textLength="20.60" lengthAdjust="spacingAndGlyphs" >p = 1.000</text>
<rect x="363.3" y="290.2" width="252.5" height="30.6" fill="#fff" stroke="#0c0c0c" stroke-width="1.4"/>
<text x="366.10" y="299.00" font-size="7.2" font-weight="normal" font-style="normal" fill="#000" stroke="#000" stroke-width="0.18" textLength="233.20" lengthAdjust="spacingAndGlyphs" >*p &lt; 0.0125, i.e. statistically significant difference (Mann–Whitney U test)</text>
<rect x="366.1" y="304.2" width="4.6" height="4.4" fill="#666"/>
<text x="373.80" y="308.40" font-size="7.2" font-weight="normal" font-style="normal" fill="#000" stroke="#000" stroke-width="0.18" textLength="120.00" lengthAdjust="spacingAndGlyphs" >Fine-needle aspiration biopsy (FNAB)</text>
<rect x="366.1" y="313.4" width="4.6" height="4.4" fill="#000"/>
<text x="373.80" y="317.70" font-size="7.2" font-weight="normal" font-style="normal" fill="#000" stroke="#000" stroke-width="0.18" textLength="204.00" lengthAdjust="spacingAndGlyphs" >Ultrasound-enhanced fine-needle aspiration biopsy (USeFNAB)</text>
</g>
</svg>
</body></html>
